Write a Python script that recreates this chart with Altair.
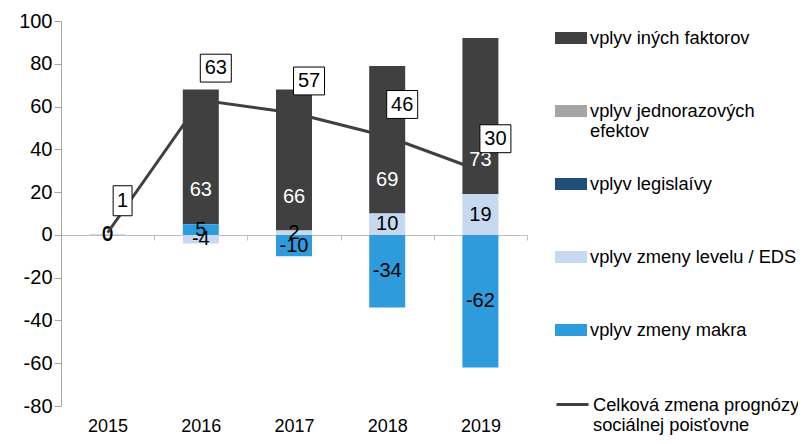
import altair as alt
import pandas as pd

FONT = "Liberation Sans"

years = ["2015", "2016", "2017", "2018", "2019"]
series = [
    "vplyv iných faktorov",
    "vplyv jednorazových efektov",
    "vplyv legislaívy",
    "vplyv zmeny levelu / EDS",
    "vplyv zmeny makra",
]
colors = ["#404040", "#a5a5a5", "#1f4e79", "#c6d9f1", "#2e9bdc"]
stack_rank = [4, 3, 2, 1, 0]  # stacking order (0 = closest to zero)

ine_faktory = [0, 63, 66, 69, 73]
jednorazove = [0, 0, 0, 0, 0]
legislativa = [0, 0, 0, 0, 0]
level_eds = [0.4, -4, 2, 10, 19]
makro = [0, 5, -10, -34, -62]

total_name = "Celková zmena prognózy sociálnej poisťovne"
total = [1, 63, 57, 46, 30]

rows = []
for s, vals, r in zip(series, [ine_faktory, jednorazove, legislativa, level_eds, makro], stack_rank):
    for y, v in zip(years, vals):
        rows.append({"year": y, "series": s, "value": v, "rank": r, "label": str(int(round(v)))})
bars_df = pd.DataFrame(rows)
line_df = pd.DataFrame({"year": years, "total": total, "name": [total_name] * len(years)})

x_axis = alt.Axis(
    title=None, labelAngle=0, offset=-171, domainColor="#bfbfbf", domainWidth=1,
    tickColor="#bfbfbf", tickBand="extent", tickSize=5, labelPadding=177,
    labelFontSize=18, labelColor="#000000", labelFont=FONT, grid=False,
)
x_scale = alt.Scale(domain=years, paddingInner=0, paddingOuter=0)
X = alt.X("year:N", scale=x_scale, axis=x_axis)

y_axis = alt.Axis(
    values=list(range(-80, 101, 20)), title=None, grid=False, tickSize=7,
    tickColor="#a6a6a6", domainColor="#a6a6a6", labelFontSize=20, labelPadding=2,
    labelColor="#000000", labelFont=FONT, labelExpr="'' + datum.value",
)
y_scale = alt.Scale(domain=[-80, 100], nice=False)


def Y(field, **kw):
    return alt.Y(field, scale=y_scale, axis=y_axis, **kw)


bar_sym = "M-1,0.125H1V0.875H-1Z"
line_sym = "M-1,0.5H1"

legend_common = dict(
    title=None, orient="none", labelFont=FONT, labelFontSize=18.3, labelColor="#000000",
    labelLimit=400, labelBaseline="top", padding=0, labelOffset=3, gridAlign="all",
)

bars = alt.Chart(bars_df).mark_bar(width=36).encode(
    x=X,
    y=Y("value:Q", stack="zero"),
    color=alt.Color(
        "series:N",
        scale=alt.Scale(domain=series, range=colors),
        legend=alt.Legend(
            symbolType=bar_sym, symbolSize=1024, symbolStrokeWidth=0, symbolOpacity=1,
            rowPadding=19, legendX=494, legendY=-7,
            labelExpr="datum.label == 'vplyv jednorazových efektov' ? ['vplyv jednorazových', 'efektov'] : datum.label",
            **legend_common,
        ),
    ),
    order=alt.Order("rank:Q", sort="ascending"),
)

stacked = alt.Chart(bars_df).transform_stack(
    stack="value", groupby=["year"], as_=["v0", "v1"],
    sort=[alt.SortField("rank", "ascending")], offset="zero",
).transform_calculate(mid="(datum.v0 + datum.v1) / 2")

ine_lbl = stacked.transform_filter(
    alt.FieldEqualPredicate(field="series", equal=series[0])
).transform_filter("datum.value != 0").mark_text(
    dy=-34, color="white", fontSize=20, font=FONT
).encode(x=X, y=Y("v0:Q"), text="label:N")

other_lbl = stacked.transform_filter(
    alt.FieldOneOfPredicate(field="series", oneOf=[series[3], series[4]])
).mark_text(color="black", fontSize=20, font=FONT).encode(
    x=X, y=Y("mid:Q"), text="label:N"
)

line = alt.Chart(line_df).mark_line(strokeWidth=3).encode(
    x=X,
    y=Y("total:Q"),
    stroke=alt.Stroke(
        "name:N",
        scale=alt.Scale(domain=[total_name], range=["#404040"]),
        legend=alt.Legend(
            symbolType=line_sym, symbolSize=1024, symbolStrokeWidth=3,
            legendX=494, legendY=358,
            labelExpr="datum.label == '" + total_name + "' ? ['Celková zmena prognózy', 'sociálnej poisťovne'] : datum.label",
            **legend_common,
        ),
    ),
)

box1 = "M-0.63,-1V1H0.63V-1Z"
box2 = "M-1,-0.9V0.9H1V-0.9Z"
boxes = alt.Chart(line_df).mark_point(
    filled=True, fill="white", stroke="black", strokeWidth=1, opacity=1,
    xOffset=15, yOffset=-32,
).encode(
    x=X,
    y=Y("total:Q"),
    shape=alt.condition("datum.total < 10", alt.value(box1), alt.value(box2)),
    size=alt.condition("datum.total < 10", alt.value(900), alt.value(961)),
)

box_txt = alt.Chart(line_df).mark_text(
    dx=15, dy=-32, fontSize=20, color="black", font=FONT
).encode(x=X, y=Y("total:Q"), text="total:Q")

chart = alt.layer(bars, ine_lbl, other_lbl, line, boxes, box_txt).properties(
    width=466, height=385,
    autosize=alt.AutoSizeParams(type="none"),
    padding={"left": 53, "top": 13, "right": 271, "bottom": 30},
).configure_view(stroke=None)

chart.save("out.html", embed_options={"renderer": "svg", "actions": False})
